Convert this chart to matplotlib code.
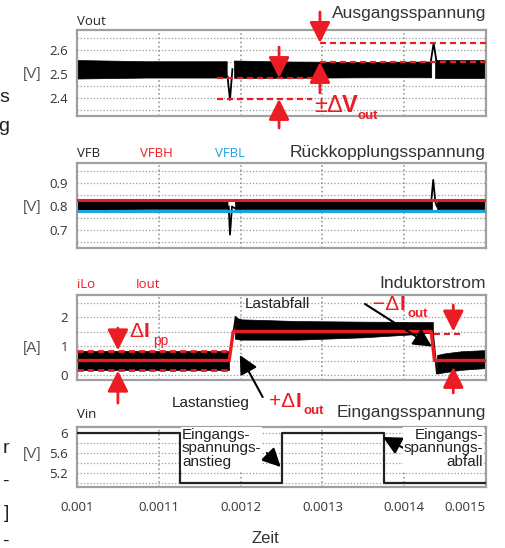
import matplotlib
matplotlib.use("Agg")
import matplotlib.pyplot as plt

# ---------------------------------------------------------------- data
# time axis
x_ticks = [0.0010, 0.0011, 0.0012, 0.0013, 0.0014, 0.0015]
x_tick_labels = ["0.001", "0.0011", "0.0012", "0.0013", "0.0014", "0.0015"]

# Vout: ripple envelope (low/high) per segment, plus the load-step transients
vout_ticks = [2.4, 2.5, 2.6]
vout_tick_labels = ["2.4", "2.5", "2.6"]
vout_a_t = [0.001000, 0.001085, 0.001183]
vout_a_lo = [2.481, 2.485, 2.485]
vout_a_hi = [2.558, 2.553, 2.553]
vout_dip_t = [0.001184, 0.001187, 0.001190]
vout_dip_v = [2.49, 2.392, 2.52]
vout_b_t = [0.001192, 0.001250, 0.001350, 0.001433]
vout_b_lo = [2.484, 2.484, 2.486, 2.486]
vout_b_hi = [2.556, 2.552, 2.550, 2.552]
vout_spike_t = [0.001432, 0.001436, 0.001440]
vout_spike_v = [2.54, 2.628, 2.54]
vout_c_t = [0.001438, 0.001500]
vout_c_lo = [2.483, 2.483]
vout_c_hi = [2.560, 2.560]
vout_levels_low = [2.483, 2.396]     # band around the undershoot
vout_levels_high = [2.629, 2.550]    # band around the overshoot

# VFB with window thresholds
vfb_ticks = [0.7, 0.8, 0.9]
vfb_tick_labels = ["0.7", "0.8", "0.9"]
vfbh = 0.827
vfbl = 0.780
vfb_a_t = [0.001000, 0.001085, 0.001184]
vfb_a_lo = [0.785, 0.790, 0.790]
vfb_a_hi = [0.825, 0.822, 0.822]
vfb_dip_t = [0.0011855, 0.001187, 0.0011895, 0.001193]
vfb_dip_v = [0.80, 0.680, 0.80, 0.792]
vfb_b_t = [0.001193, 0.001434]
vfb_b_lo = [0.790, 0.790]
vfb_b_hi = [0.822, 0.822]
vfb_spike_t = [0.001433, 0.0014355, 0.001438, 0.001440]
vfb_spike_v = [0.82, 0.913, 0.82, 0.80]
vfb_c_t = [0.001440, 0.001500]
vfb_c_lo = [0.790, 0.790]
vfb_c_hi = [0.822, 0.822]

# inductor current iLo (ripple envelope) and load current Iout
i_ticks = [0, 1, 2]
i_tick_labels = ["0", "1", "2"]
ilo_a_t = [0.001000, 0.001186]
ilo_a_lo = [0.19, 0.19]
ilo_a_hi = [0.82, 0.82]
ilo_rise_t = [0.001186, 0.001194]
ilo_rise_v = [0.50, 2.00]
ilo_b_t = [0.001193, 0.001200, 0.001270, 0.001350, 0.001420, 0.001435]
ilo_b_lo = [1.25, 1.22, 1.22, 1.30, 1.42, 1.47]
ilo_b_hi = [2.00, 1.92, 1.86, 1.84, 1.83, 1.83]
ilo_fall_t = [0.001435, 0.001440]
ilo_fall_v = [1.48, 0.06]
ilo_c_t = [0.001440, 0.001450, 0.001470, 0.001500]
ilo_c_lo = [0.05, 0.10, 0.18, 0.24]
ilo_c_hi = [0.69, 0.75, 0.82, 0.86]
iout_t = [0.001000, 0.001186, 0.001191, 0.001433, 0.001437, 0.001500]
iout_v = [0.5, 0.5, 1.5, 1.5, 0.5, 0.5]
ilo_pp_levels = [0.83, 0.17]
iout_drop_level = 1.41

# input voltage steps
vin_ticks = [5.2, 5.6, 6.0]
vin_tick_labels = ["5.2", "5.6", "6"]
vin_t = [0.001000, 0.001126, 0.001126, 0.001250, 0.001250, 0.001375, 0.001375, 0.001500]
vin_v = [6.0, 6.0, 5.0, 5.0, 6.0, 6.0, 5.0, 5.0]

# ---------------------------------------------------------------- style
W, H = 506, 548
RED = "#ec1c24"
BLUE = "#1fa3dc"
INK = "#222222"
GREY_TXT = "#333333"
TICK_FONT = ["Open Sans", "DejaVu Sans"]
SANS = ["Liberation Sans", "DejaVu Sans"]

fig = plt.figure(figsize=(W / 100, H / 100), dpi=100)


def fx(x):
    return x / W


def fy(y):
    return 1 - y / H


def text(x, y, s, **kw):
    kw.setdefault("family", SANS)
    kw.setdefault("va", "baseline")
    fig.text(fx(x), fy(y), s, **kw)


def panel(top, bottom, ylim, label_ticks, labels, grid_ticks):
    ax = fig.add_axes([fx(77), fy(bottom), 409 / W, (bottom - top) / H])
    ax.set_xlim(0.0010, 0.0015)
    ax.set_ylim(*ylim)
    ax.set_yticks(label_ticks)
    ax.set_yticklabels(labels)
    ax.set_xticks(x_ticks)
    ax.set_xticklabels([])
    ax.tick_params(which="both", length=0)
    ax.tick_params(axis="y", pad=6.5, labelsize=9.5, labelcolor=GREY_TXT)
    for lab in ax.get_yticklabels():
        lab.set_family(TICK_FONT)
    ax.grid(False)
    for v in grid_ticks:
        ax.axhline(v, color="#9a9a9a", lw=0.9, ls=(0, (1, 1.6)), zorder=0.5)
    for v in [0.0011, 0.0012, 0.0013, 0.0014]:
        ax.axvline(v, color="#8a8a8a", lw=1.1, ls=(0, (1, 1.8)), zorder=0.6)
    for sp in ax.spines.values():
        sp.set_color("#a0a0a0")
        sp.set_linewidth(1.6)
    return ax


def band(ax, t, lo, hi):
    ax.fill_between(t, lo, hi, color="black", lw=0.5, zorder=2)


def arrow(ax, tail, tip, color, lw=1.6, ms=16, hl=0.7, hw=0.35):
    ax.annotate("", xy=tip, xytext=tail, xycoords="data", textcoords="data",
                arrowprops=dict(arrowstyle=f"-|>,head_length={hl},head_width={hw}",
                                color=color, lw=lw, shrinkA=0, shrinkB=0,
                                mutation_scale=ms),
                annotation_clip=False, zorder=6)


# ---------------------------------------------------------------- panel 1: Vout
ax1 = panel(30, 116, (2.325, 2.683), vout_ticks, vout_tick_labels,
            [2.35, 2.4, 2.45, 2.55, 2.6, 2.65])
band(ax1, vout_a_t, vout_a_lo, vout_a_hi)
band(ax1, vout_b_t, vout_b_lo, vout_b_hi)
band(ax1, vout_c_t, vout_c_lo, vout_c_hi)
ax1.plot(vout_dip_t, vout_dip_v, color="black", lw=1.3, zorder=3)
ax1.plot(vout_spike_t, vout_spike_v, color="black", lw=1.3, zorder=3)
dash = dict(color=RED, lw=1.6, ls=(0, (2.7, 1.8)), zorder=4, clip_on=False)
for v in vout_levels_low:
    ax1.plot([0.001171, 0.001287], [v, v], **dash)
for v in vout_levels_high:
    ax1.plot([0.001297, 0.0015], [v, v], **dash)
arrow(ax1, (0.001247, 2.612), (0.001247, vout_levels_low[0]), RED, lw=2, ms=18)
arrow(ax1, (0.001247, 2.275), (0.001247, vout_levels_low[1]), RED, lw=2, ms=18)
arrow(ax1, (0.001297, 2.758), (0.001297, vout_levels_high[0]), RED, lw=2, ms=18)
arrow(ax1, (0.001297, 2.421), (0.001297, vout_levels_high[1]), RED, lw=2, ms=18)

text(77, 25, "Vout", color=INK, size=9.5, family=TICK_FONT)
text(42, 78, "[V]", color="#555555", size=11, ha="right")
text(486, 18, "Ausgangsspannung", color=GREY_TXT, size=12.5, ha="right")
text(314, 112, "±Δ", color=RED, size=17)
text(342, 112, "V", color=RED, size=17, weight="bold")
text(357, 119, "out", color=RED, size=9.5, weight="bold")

# ---------------------------------------------------------------- panel 2: VFB
ax2 = panel(163, 248, (0.623, 0.985), vfb_ticks, vfb_tick_labels,
            [0.65, 0.7, 0.75, 0.85, 0.9, 0.95])
band(ax2, vfb_a_t, vfb_a_lo, vfb_a_hi)
band(ax2, vfb_b_t, vfb_b_lo, vfb_b_hi)
band(ax2, vfb_c_t, vfb_c_lo, vfb_c_hi)
ax2.plot(vfb_dip_t, vfb_dip_v, color="black", lw=1.3, zorder=3)
ax2.plot(vfb_spike_t, vfb_spike_v, color="black", lw=1.3, zorder=3)
ax2.axhline(vfbh, color=RED, lw=2.2, zorder=4)
ax2.axhline(vfbl, color=BLUE, lw=2.2, zorder=4)

text(77, 157, "VFB", color=INK, size=9.5, family=TICK_FONT)
text(140, 157, "VFBH", color=RED, size=9.5, family=TICK_FONT)
text(215, 157, "VFBL", color=BLUE, size=9.5, family=TICK_FONT)
text(42, 211, "[V]", color="#555555", size=11, ha="right")
text(486, 157, "Rückkopplungsspannung", color=GREY_TXT, size=12.5, ha="right")

# ---------------------------------------------------------------- panel 3: currents
ax3 = panel(295, 380, (-0.172, 2.759), i_ticks, i_tick_labels,
            [0, 0.5, 1, 1.5, 2, 2.5])
band(ax3, ilo_a_t, ilo_a_lo, ilo_a_hi)
band(ax3, ilo_b_t, ilo_b_lo, ilo_b_hi)
band(ax3, ilo_c_t, ilo_c_lo, ilo_c_hi)
ax3.plot(ilo_rise_t, ilo_rise_v, color="black", lw=1.3, zorder=3)
ax3.plot(ilo_fall_t, ilo_fall_v, color="black", lw=1.3, zorder=3)
ax3.plot(iout_t, iout_v, color=RED, lw=2.4, zorder=4)
dash3 = dict(color=RED, lw=2.0, ls=(0, (2.2, 1.5)), zorder=4)
for v in ilo_pp_levels:
    ax3.plot([0.0010, 0.001186], [v, v], **dash3)
ax3.plot([0.001437, 0.001472], [iout_drop_level, iout_drop_level],
         color=RED, lw=1.6, ls=(0, (2.7, 1.8)), zorder=4)
arrow(ax3, (0.00105, 1.62), (0.00105, 0.85), RED, lw=2, ms=18)
arrow(ax3, (0.00105, -0.97), (0.00105, 0.15), RED, lw=2, ms=18)
arrow(ax3, (0.00146, 2.41), (0.00146, 1.50), RED, lw=2, ms=18)
arrow(ax3, (0.00146, -0.62), (0.00146, 0.28), RED, lw=2, ms=18)
arrow(ax3, (0.001352, 2.45), (0.001434, 0.98), "black", lw=1.5, ms=16)
arrow(ax3, (0.001227, -0.76), (0.001199, 0.69), "black", lw=1.5, ms=16)

text(77, 288, "iLo", color=RED, size=9.5, family=TICK_FONT)
text(136, 288, "Iout", color=RED, size=9.5, family=TICK_FONT)
text(42, 352, "[A]", color="#555555", size=11, ha="right")
text(486, 288, "Induktorstrom", color=GREY_TXT, size=12.5, ha="right")
text(245, 308, "Lastabfall", color=INK, size=11)
text(172, 407, "Lastanstieg", color=INK, size=11)
text(129, 337, "Δ", color=RED, size=15)
text(144, 337, "I", color=RED, size=15, weight="bold")
text(153, 345, "pp", color=RED, size=10)
text(373, 310, "−Δ", color=RED, size=15)
text(400, 310, "I", color=RED, size=15, weight="bold")
text(408, 317, "out", color=RED, size=9.5, weight="bold")
text(269, 407, "+Δ", color=RED, size=15)
text(296, 407, "I", color=RED, size=15, weight="bold")
text(304, 414, "out", color=RED, size=9.5, weight="bold")

# ---------------------------------------------------------------- panel 4: Vin
ax4 = panel(427, 487, (4.92, 6.12), vin_ticks, vin_tick_labels,
            [5.0, 5.2, 5.4, 5.6, 5.8, 6.0])
ax4.plot(vin_t, vin_v, color=INK, lw=1.6, zorder=3)
ax4.set_xticklabels(x_tick_labels)
ax4.tick_params(axis="x", pad=10, labelsize=9.5, labelcolor=GREY_TXT)
for lab in ax4.get_xticklabels():
    lab.set_family(TICK_FONT)
ax4.get_xticklabels()[-1].set_ha("right")
arrow(ax4, (0.001232, 5.60), (0.001249, 5.32), "black", lw=1.5, ms=16)
arrow(ax4, (0.001399, 5.70), (0.001374, 5.92), "black", lw=1.5, ms=16)

box = dict(facecolor="white", edgecolor="none", pad=0.6)
text(182, 428, "Eingangs-\nspannungs-\nanstieg", color=INK, size=11,
     va="top", linespacing=0.95, bbox=box, zorder=5)
text(483, 428, "Eingangs-\nspannungs-\nabfall", color=INK, size=11,
     va="top", ha="right", multialignment="right", linespacing=0.95,
     bbox=box, zorder=5)
text(77, 418, "Vin", color=INK, size=9.5, family=TICK_FONT)
text(42, 458, "[V]", color="#555555", size=11, ha="right")
text(486, 417, "Eingangsspannung", color=GREY_TXT, size=12.5, ha="right")
text(265, 543, "Zeit", color=GREY_TXT, size=12, ha="center")

# text running in from the neighbouring column
for ch, yy in [("s", 102), ("g", 131), ("r", 453), ("-", 486), ("]", 518), ("-", 546)]:
    text(9, yy, ch, color=INK, size=14, ha="right")

fig.savefig("out.png", dpi=100)
